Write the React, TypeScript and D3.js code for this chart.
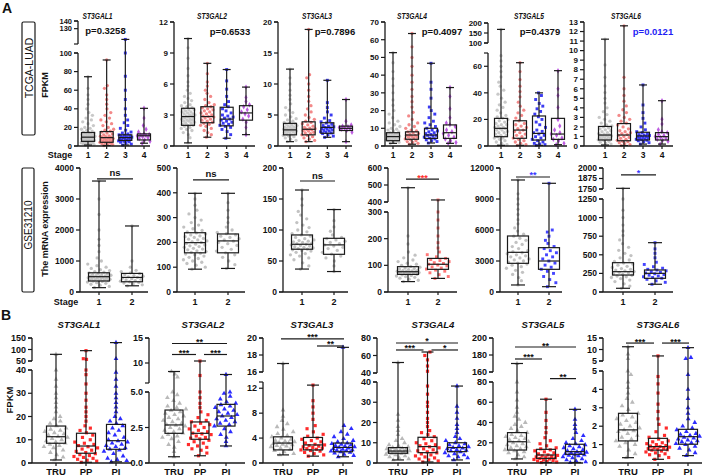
import React from "react";
import * as d3 from "d3";

const FONT = "'Liberation Sans', Arial, Helvetica, sans-serif";

// ---------- categories & labels ----------
const stageCats = ["1", "2", "3", "4"];
const gseCats = ["1", "2"];
const subtypeCats = ["TRU", "PP", "PI"];
const geneNames = ["ST3GAL1", "ST3GAL2", "ST3GAL3", "ST3GAL4", "ST3GAL5", "ST3GAL6"];
const tcgaPValues = ["p=0.3258", "p=0.6533", "p=0.7896", "p=0.4097", "p=0.4379", "p=0.0121"];
const gseSigLabels = ["ns", "ns", "ns", "***", "**", "*"];
const gseSigValues = [3650, 452, 179, 535, 11130, 1917];

// ---------- box stats [min, q1, median, q3, max] ----------
const tcgaBox1 = [[1, 5, 9.5, 14.5, 74.5], [0.5, 4, 9, 15.5, 92.5], [1, 6, 9, 12, 116], [3, 6.5, 11, 13, 40.5]];
const tcgaBox2 = [[0.3, 2.0, 2.85, 3.65, 10.4], [0.85, 2.25, 2.85, 3.8, 8.0], [0.75, 1.95, 2.6, 3.75, 7.4], [1.1, 2.5, 3.2, 3.9, 5.7]];
const tcgaBox3 = [[0.7, 1.8, 2.6, 3.65, 12.4], [0.7, 1.8, 2.7, 3.9, 18.8], [1.4, 2.05, 3.0, 3.75, 10.6], [0.7, 2.5, 2.85, 3.2, 7.5]];
const tcgaBox4 = [[1.5, 3, 5.3, 7.5, 52.7], [1, 3.8, 6.2, 8, 63.5], [1.7, 4.3, 6.2, 10, 46.7], [1.5, 4.3, 7.5, 11.9, 33]];
const tcgaBox5 = [[0.5, 7, 13.3, 20.8, 168], [0.5, 5.8, 12, 19, 62.7], [0.5, 4.5, 9.5, 22.6, 40], [1, 5, 9, 20.8, 56.7]];
const tcgaBox6 = [[0.1, 0.63, 1.15, 2.05, 11.2], [0.05, 0.55, 1.15, 2.35, 12.6], [0.2, 0.63, 1.05, 1.44, 6.4], [0.2, 0.63, 0.98, 1.4, 4.75]];

const gseBox1 = [[140, 355, 494, 620, 3580], [200, 330, 470, 600, 2130]];
const gseBox2 = [[92, 158, 199, 239, 398], [95, 158, 206, 234, 398]];
const gseBox3 = [[37, 69, 77, 92, 164.5], [33, 60.8, 76, 86.6, 133]];
const gseBox4 = [[39, 66, 76, 95, 484], [51, 85, 104, 126, 412]];
const gseBox5 = [[680, 2775, 3840, 5420, 10840], [515, 2195, 3000, 4290, 10520]];
const gseBox6 = [[50, 228, 273, 394, 1758], [104, 184, 251, 296, 663]];

const bBox1 = [[1.3, 8.5, 11.3, 15.9, 79], [0.3, 4.2, 7.3, 12.8, 95], [0.5, 5.9, 9.6, 16.6, 130]];
const bBox2 = [[0.44, 2.09, 2.68, 3.73, 8.3], [0.51, 1.67, 2.09, 2.89, 10.4], [1.2, 2.6, 3.31, 4.13, 7.7]];
const bBox3 = [[1.3, 2.1, 3.2, 4.2, 17], [1.1, 2.1, 2.9, 4.1, 12.5], [1.0, 1.8, 2.5, 3.2, 18.9]];
const bBox4 = [[1.5, 4.8, 5.9, 7.6, 52], [0.5, 5.1, 8.1, 12.7, 64], [1.5, 5.6, 7.6, 10, 38]];
const bBox5 = [[4, 12.8, 21, 30, 170], [0.5, 4.6, 7.9, 13.5, 63], [0.5, 8.6, 11.2, 18.5, 53]];
const bBox6 = [[0.29, 1.2, 1.8, 2.7, 11.2], [0.2, 0.7, 0.89, 1.34, 7.2], [0.4, 1.02, 1.43, 1.83, 10.8]];

// ---------- individual sample values ----------
const tcgaPts1 = [
  [1, 1.5, 2, 2.5, 3, 3, 3.5, 4, 4, 4.5, 5, 5, 5.5, 6, 6, 6.5, 7, 7, 7.5, 8, 8, 8.5, 9, 9, 9.5, 10, 10, 10.5, 11, 11, 11.5, 12, 12.5, 13, 13.5, 14, 14.5, 15, 16, 17, 18, 19, 20, 22, 24, 26, 28, 30, 33, 36, 40, 45, 50, 55, 62, 74.5],
  [0.5, 1.5, 2, 2.5, 3, 3.5, 4, 4.5, 5, 5.5, 6, 6.5, 7, 7.5, 8, 8.5, 9, 9.5, 10, 10.5, 11, 12, 13, 14, 15, 16, 17, 18, 20, 22, 24, 26, 28, 30, 33, 36, 40, 45, 50, 55, 62, 65, 92.5],
  [1, 2, 3, 4, 4.5, 5, 5.5, 6, 6.5, 7, 7.5, 8, 8.5, 9, 9.5, 10, 10.5, 11, 11.5, 12, 13, 14, 15, 17, 19, 22, 25, 28, 33, 40, 50, 60, 75, 100, 116],
  [3, 5, 6.5, 8, 9, 10, 11, 11.5, 12, 12.5, 13, 15, 18, 22, 30, 40.5],
];
const tcgaPts2 = [
  [0.3, 0.8, 1.1, 1.3, 1.5, 1.6, 1.7, 1.8, 1.9, 2.0, 2.0, 2.1, 2.2, 2.2, 2.3, 2.4, 2.4, 2.5, 2.5, 2.6, 2.6, 2.7, 2.7, 2.8, 2.8, 2.9, 2.9, 3.0, 3.0, 3.1, 3.1, 3.2, 3.3, 3.3, 3.4, 3.5, 3.5, 3.6, 3.7, 3.8, 3.9, 4.0, 4.2, 4.4, 4.6, 4.8, 5.1, 5.4, 5.8, 6.2, 6.8, 7.5, 8.5, 9.5, 10.4],
  [0.85, 1.1, 1.3, 1.5, 1.7, 1.9, 2.0, 2.1, 2.2, 2.3, 2.4, 2.5, 2.6, 2.7, 2.8, 2.85, 2.9, 3.0, 3.1, 3.2, 3.3, 3.4, 3.5, 3.6, 3.7, 3.8, 3.9, 4.0, 4.2, 4.5, 4.8, 5.1, 5.4, 5.8, 6.2, 7.0, 8.0],
  [0.75, 1.1, 1.4, 1.6, 1.8, 1.9, 2.0, 2.1, 2.2, 2.3, 2.4, 2.5, 2.6, 2.7, 2.8, 2.9, 3.0, 3.2, 3.4, 3.6, 3.8, 4.0, 4.3, 4.8, 5.5, 6.3, 7.4],
  [1.1, 1.8, 2.3, 2.6, 2.9, 3.1, 3.3, 3.5, 3.8, 4.0, 4.3, 4.7, 5.7],
];
const tcgaPts3 = [
  [0.7, 0.9, 1.1, 1.3, 1.5, 1.6, 1.7, 1.8, 1.9, 2.0, 2.1, 2.2, 2.3, 2.3, 2.4, 2.5, 2.5, 2.6, 2.6, 2.7, 2.7, 2.8, 2.9, 3.0, 3.0, 3.1, 3.2, 3.3, 3.4, 3.5, 3.6, 3.7, 3.8, 4.0, 4.2, 4.4, 4.7, 5.0, 5.4, 5.8, 6.2, 6.8, 7.5, 8.2, 9.0, 10.0, 11.0, 12.4],
  [0.7, 0.9, 1.1, 1.3, 1.5, 1.7, 1.8, 2.0, 2.1, 2.2, 2.4, 2.5, 2.6, 2.7, 2.8, 2.9, 3.0, 3.2, 3.4, 3.6, 3.8, 4.0, 4.3, 4.6, 5.0, 5.5, 6.0, 6.5, 7.2, 8.0, 9.0, 10.0, 11.0, 11.5, 18.8],
  [1.4, 1.6, 1.8, 2.0, 2.1, 2.2, 2.3, 2.4, 2.5, 2.6, 2.7, 2.8, 2.9, 3.0, 3.1, 3.2, 3.3, 3.5, 3.7, 3.9, 4.1, 4.5, 5.0, 5.5, 6.2, 7.0, 10.6],
  [0.7, 2.2, 2.5, 2.7, 2.8, 2.9, 3.0, 3.1, 3.2, 3.4, 4.0, 7.5],
];
const tcgaPts4 = [
  [1.5, 2, 2.5, 3, 3, 3.5, 3.5, 4, 4, 4.5, 4.5, 5, 5, 5.5, 5.5, 6, 6, 6.5, 6.5, 7, 7, 7.5, 8, 8.5, 9, 9.5, 10, 11, 12, 13, 14, 16, 18, 20, 23, 26, 30, 34, 38, 42, 47, 52.7],
  [1, 1.5, 2, 2.5, 3, 3.5, 4, 4.5, 5, 5, 5.5, 6, 6, 6.5, 7, 7.5, 8, 8.5, 9, 10, 11, 12, 13, 15, 17, 19, 22, 25, 28, 32, 36, 40, 45, 50, 56, 63.5],
  [1.7, 2.5, 3, 3.5, 4, 4.5, 5, 5.5, 6, 6, 6.5, 7, 7.5, 8, 8.5, 9, 10, 11, 12, 13, 14, 16, 18, 20, 22, 27, 32, 36, 46.7],
  [1.5, 2, 3, 4, 5, 6, 7, 8, 9, 11, 12, 13, 16, 21, 28, 33],
];
const tcgaPts5 = [
  [0.5, 1, 2, 3, 4, 5, 6, 6, 7, 8, 8, 9, 10, 10, 11, 12, 12, 13, 13, 14, 14, 15, 16, 16, 17, 18, 19, 20, 21, 22, 23, 25, 27, 29, 31, 33, 36, 39, 42, 45, 48, 52, 56, 60, 64, 68, 168],
  [0.5, 1, 2, 3, 4, 5, 6, 7, 8, 9, 10, 11, 12, 13, 14, 15, 16, 17, 19, 21, 23, 25, 27, 30, 33, 37, 41, 45, 50, 56, 62.7],
  [0.5, 1, 1.5, 2, 3, 4, 5, 6, 7, 8, 9, 10, 11, 12, 14, 16, 18, 20, 22, 24, 26, 28, 30, 32, 35, 38, 40],
  [1, 2, 4, 5, 6, 8, 9, 10, 12, 15, 20, 29, 38, 43, 56.7],
];
const tcgaPts6 = [
  [0.1, 0.2, 0.3, 0.4, 0.5, 0.6, 0.65, 0.7, 0.75, 0.8, 0.85, 0.9, 0.95, 1.0, 1.05, 1.1, 1.15, 1.2, 1.25, 1.3, 1.4, 1.5, 1.6, 1.7, 1.8, 1.9, 2.0, 2.1, 2.2, 2.4, 2.6, 2.8, 3.0, 3.3, 3.6, 4.0, 4.5, 5.0, 5.6, 6.3, 7.2, 8.5, 11.2],
  [0.05, 0.15, 0.25, 0.35, 0.45, 0.5, 0.6, 0.7, 0.8, 0.9, 1.0, 1.1, 1.2, 1.3, 1.4, 1.5, 1.6, 1.8, 2.0, 2.2, 2.4, 2.6, 2.8, 3.0, 3.2, 3.5, 3.8, 4.2, 4.7, 5.3, 6.0, 7.2, 12.6],
  [0.2, 0.35, 0.45, 0.55, 0.6, 0.65, 0.7, 0.75, 0.8, 0.85, 0.9, 0.95, 1.0, 1.05, 1.1, 1.15, 1.2, 1.3, 1.4, 1.5, 1.7, 2.0, 2.4, 2.9, 3.5, 4.3, 6.4],
  [0.2, 0.5, 0.6, 0.7, 0.8, 0.9, 1.0, 1.1, 1.2, 1.4, 1.5, 1.7, 2.3, 2.8, 4.75],
];

const gsePts1 = [
  [140, 180, 220, 250, 280, 300, 320, 340, 350, 360, 370, 380, 390, 400, 410, 420, 430, 440, 450, 460, 470, 480, 490, 500, 510, 520, 530, 540, 550, 560, 580, 600, 620, 640, 660, 690, 720, 760, 800, 850, 900, 1000, 1100, 1300, 1500, 1700, 2000, 2500, 3000, 3580],
  [200, 230, 260, 290, 310, 330, 350, 370, 390, 410, 430, 450, 470, 490, 510, 530, 560, 590, 620, 660, 700, 800, 1000, 2130],
];
const gsePts2 = [
  [92, 100, 108, 115, 120, 125, 130, 135, 140, 145, 150, 153, 156, 160, 163, 166, 170, 173, 176, 180, 183, 186, 190, 193, 196, 200, 203, 206, 210, 213, 216, 220, 223, 226, 230, 234, 238, 242, 248, 255, 262, 270, 280, 290, 300, 315, 330, 350, 375, 398],
  [95, 110, 125, 140, 150, 158, 165, 172, 180, 188, 195, 200, 205, 210, 215, 220, 225, 230, 235, 240, 250, 262, 280, 300, 330, 360, 398],
];
const gsePts3 = [
  [37, 42, 47, 52, 55, 58, 60, 62, 64, 66, 67, 68, 69, 70, 71, 72, 73, 74, 75, 76, 77, 78, 79, 80, 81, 82, 83, 84, 86, 88, 90, 92, 94, 97, 100, 104, 108, 112, 118, 124, 130, 140, 150, 164.5],
  [33, 42, 50, 55, 58, 61, 64, 67, 70, 72, 74, 76, 78, 80, 82, 84, 86, 88, 92, 98, 105, 115, 133],
];
const gsePts4 = [
  [39, 44, 48, 52, 55, 58, 60, 62, 64, 66, 68, 70, 71, 72, 73, 74, 75, 76, 77, 78, 79, 80, 82, 84, 86, 88, 90, 93, 96, 100, 104, 108, 114, 120, 128, 138, 150, 180, 210, 484],
  [51, 58, 65, 72, 78, 82, 86, 90, 94, 98, 101, 104, 107, 110, 114, 118, 122, 126, 132, 140, 150, 165, 185, 210, 240, 270, 300, 412],
];
const gsePts5 = [
  [680, 1100, 1400, 1700, 1900, 2100, 2300, 2450, 2600, 2700, 2800, 2900, 3000, 3100, 3200, 3300, 3400, 3500, 3600, 3700, 3800, 3900, 4000, 4200, 4400, 4600, 4800, 5000, 5200, 5400, 5600, 5900, 6200, 6600, 7000, 7500, 8000, 8500, 9000, 9500, 10840],
  [515, 900, 1200, 1500, 1800, 2000, 2200, 2400, 2600, 2800, 3000, 3200, 3400, 3600, 3800, 4000, 4200, 4400, 4700, 5000, 5400, 5800, 6000, 10520],
];
const gsePts6 = [
  [50, 80, 110, 140, 160, 180, 195, 205, 215, 225, 235, 245, 255, 265, 275, 285, 295, 305, 315, 330, 345, 360, 375, 390, 410, 430, 460, 490, 520, 560, 600, 650, 700, 760, 820, 900, 1000, 1100, 1250, 1758],
  [104, 130, 150, 170, 185, 195, 205, 215, 225, 235, 245, 255, 265, 275, 285, 295, 305, 320, 340, 370, 400, 460, 520, 580, 663],
];

const bPts1 = [
  [1.3, 2.5, 3.5, 4.5, 5.5, 6.5, 7, 7.5, 8, 8.5, 9, 9.5, 10, 10.5, 11, 11.5, 12, 12.5, 13, 13.5, 14, 14.5, 15, 16, 17, 18, 19, 20, 22, 24, 26, 28, 30, 33, 36, 40, 79],
  [0.3, 0.8, 1.2, 1.6, 2, 2.4, 2.8, 3.2, 3.6, 4, 4.5, 5, 5.5, 6, 6.5, 7, 7.5, 8, 8.5, 9, 10, 11, 12, 13, 14, 15, 16, 18, 20, 22, 24, 27, 30, 34, 38, 40, 57, 60, 95],
  [0.5, 1, 1.5, 2, 3, 4, 5, 5.5, 6, 6.5, 7, 7.5, 8, 8.5, 9, 9.5, 10, 11, 12, 13, 14, 15, 16, 17, 18, 19, 20, 22, 24, 26, 28, 30, 33, 36, 39, 60, 130],
];
const bPts2 = [
  [0.44, 0.8, 1.1, 1.3, 1.5, 1.7, 1.8, 1.9, 2.0, 2.1, 2.2, 2.3, 2.4, 2.5, 2.6, 2.65, 2.7, 2.8, 2.9, 3.0, 3.1, 3.2, 3.3, 3.4, 3.5, 3.6, 3.7, 3.8, 3.9, 4.0, 4.2, 4.4, 4.6, 4.8, 5.0, 7.2, 7.8, 8.3],
  [0.51, 0.7, 0.9, 1.0, 1.1, 1.2, 1.3, 1.4, 1.5, 1.6, 1.7, 1.75, 1.8, 1.9, 2.0, 2.05, 2.1, 2.2, 2.3, 2.4, 2.5, 2.6, 2.7, 2.8, 2.9, 3.0, 3.2, 3.4, 3.6, 3.9, 4.2, 4.6, 5.0, 7.5, 10.4],
  [1.2, 1.5, 1.8, 2.0, 2.2, 2.4, 2.6, 2.7, 2.8, 2.9, 3.0, 3.1, 3.2, 3.3, 3.4, 3.5, 3.6, 3.7, 3.8, 3.9, 4.0, 4.1, 4.2, 4.3, 4.5, 4.7, 4.9, 5.0, 7.7],
];
const bPts3 = [
  [1.3, 1.5, 1.8, 2.0, 2.2, 2.4, 2.6, 2.7, 2.8, 2.9, 3.0, 3.1, 3.2, 3.3, 3.4, 3.5, 3.6, 3.8, 4.0, 4.2, 4.4, 4.7, 5.0, 5.4, 5.8, 6.3, 6.8, 7.5, 8.5, 17],
  [1.1, 1.3, 1.5, 1.7, 1.9, 2.0, 2.1, 2.2, 2.3, 2.4, 2.5, 2.6, 2.7, 2.8, 2.9, 3.0, 3.2, 3.4, 3.6, 3.8, 4.0, 4.3, 4.6, 5.0, 5.5, 6.0, 7.0, 8.0, 9.0, 10.0, 12.5],
  [1.0, 1.2, 1.4, 1.6, 1.7, 1.8, 1.9, 2.0, 2.05, 2.1, 2.2, 2.3, 2.4, 2.5, 2.6, 2.7, 2.8, 2.9, 3.0, 3.1, 3.2, 3.4, 3.6, 3.9, 4.2, 4.6, 5.0, 5.5, 6.0, 18.9],
];
const bPts4 = [
  [1.5, 2, 2.5, 3, 3.5, 4, 4.3, 4.6, 4.8, 5, 5.2, 5.4, 5.6, 5.8, 6, 6.2, 6.4, 6.6, 6.8, 7, 7.3, 7.6, 8, 8.5, 9, 10, 11, 12, 14, 16, 18, 21, 24, 52],
  [0.5, 1, 1.5, 2, 2.5, 3, 3.5, 4, 4.5, 5, 5.5, 6, 6.5, 7, 7.5, 8, 8.5, 9, 9.5, 10, 11, 12, 13, 14, 15, 16, 18, 20, 22, 25, 28, 30, 34, 38, 42, 48, 55, 60, 64],
  [1.5, 2.5, 3, 3.5, 4, 4.5, 5, 5.5, 6, 6.3, 6.6, 7, 7.3, 7.6, 8, 8.5, 9, 9.5, 10, 11, 12, 13, 15, 17, 19, 22, 25, 28, 38],
];
const bPts5 = [
  [4, 6, 8, 10, 11, 12, 13, 14, 15, 16, 17, 18, 19, 20, 21, 22, 23, 24, 25, 26, 27, 28, 30, 32, 34, 36, 38, 40, 43, 46, 50, 55, 62, 70, 80, 170],
  [0.5, 1, 1.5, 2, 2.5, 3, 3.5, 4, 4.5, 5, 5.5, 6, 6.5, 7, 7.5, 8, 9, 10, 11, 12, 13, 14, 15, 17, 19, 22, 25, 30, 35, 42, 50, 63],
  [0.5, 1, 2, 3, 4, 5, 6, 7, 7.5, 8, 8.5, 9, 9.5, 10, 10.5, 11, 12, 13, 14, 15, 16, 17, 18, 19, 20, 22, 24, 27, 30, 34, 38, 43, 53],
];
const bPts6 = [
  [0.29, 0.5, 0.7, 0.9, 1.0, 1.1, 1.2, 1.3, 1.4, 1.5, 1.6, 1.7, 1.75, 1.8, 1.9, 2.0, 2.1, 2.2, 2.3, 2.4, 2.5, 2.6, 2.7, 2.9, 3.1, 3.3, 3.5, 3.8, 4.1, 4.4, 4.8, 5.0, 6.0, 8.0, 11.2],
  [0.2, 0.3, 0.4, 0.45, 0.5, 0.55, 0.6, 0.65, 0.7, 0.72, 0.75, 0.78, 0.8, 0.83, 0.86, 0.89, 0.92, 0.95, 1.0, 1.05, 1.1, 1.15, 1.2, 1.3, 1.4, 1.5, 1.7, 1.9, 2.1, 2.4, 2.8, 3.2, 3.8, 4.3, 4.7, 7.2],
  [0.4, 0.55, 0.7, 0.8, 0.9, 1.0, 1.05, 1.1, 1.15, 1.2, 1.25, 1.3, 1.35, 1.4, 1.45, 1.5, 1.55, 1.6, 1.7, 1.8, 1.9, 2.0, 2.2, 2.4, 2.7, 3.0, 3.5, 4.0, 4.8, 6.0, 6.5, 10.8],
];

// ---------- axis tick labels (per axis segment, bottom segment first) ----------
const tcgaTicks1 = [["0", "20", "40", "60", "80", "100"], ["130", "140"]];
const tcgaTicks2 = [["0", "3", "6", "9", "12"]];
const tcgaTicks3 = [["0", "5", "10", "15", "20"]];
const tcgaTicks4 = [["0", "10", "20", "30", "40", "50", "60", "70"]];
const tcgaTicks5 = [["0", "20", "40", "60"], ["100", "150", "200"]];
const tcgaTicks6 = [["0", "1", "2", "3", "4", "5", "6", "7", "8", "9", "10", "11", "12", "13"]];
const gseTicks1 = [["0", "1000", "2000", "3000", "4000"]];
const gseTicks2 = [["0", "100", "200", "300", "400", "500"]];
const gseTicks3 = [["0", "50", "100", "150", "200"]];
const gseTicks4 = [["0", "100", "200", "300"], ["400", "500", "600"]];
const gseTicks5 = [["0", "3000", "6000", "9000", "12000"]];
const gseTicks6 = [["0", "250", "500", "750", "1000", "1250"], ["1750", "1875", "2000"]];
const bTicks1 = [["0", "10", "20", "30", "40"], ["50", "100", "150"]];
const bTicks2 = [["0.0", "2.5", "5.0"], ["10", "15"]];
const bTicks3 = [["0", "4", "8", "12"], ["16", "18", "20"]];
const bTicks4 = [["0", "10", "20", "30", "40"], ["40", "60", "80"]];
const bTicks5 = [["0", "20", "40", "60", "80"], ["160", "180", "200"]];
const bTicks6 = [["0", "1", "2", "3", "4", "5"], ["5", "10", "15"]];

// significance brackets: [group a, group b, label, level value]
const bSig2 = [[0, 2, "**", 13.9], [0, 1, "***", 11.7], [1, 2, "***", 11.7]];
const bSig3 = [[0, 2, "***", 19.9], [1, 2, "**", 19.06]];
const bSig4 = [[0, 2, "*", 74.3], [0, 1, "***", 66.3], [1, 2, "*", 66.3]];
const bSig5 = [[0, 2, "**", 189.4], [0, 1, "***", 175.3], [1, 2, "**", 107]];
const bSig6 = [[0, 1, "***", 12.8], [1, 2, "***", 12.8]];

// ---------- helpers ----------
type Seg = { d: [number, number]; r: [number, number] };

function makeY(segs: Seg[]) {
  const sc = segs.map((s) => d3.scaleLinear().domain(s.d).range(s.r));
  return (v: number) => {
    for (let i = 0; i < segs.length; i++) {
      const [a, b] = segs[i].d;
      if (v >= a && v <= b) return sc[i](v);
      if (i < segs.length - 1 && v > b && v < segs[i + 1].d[0]) {
        const t = (v - b) / (segs[i + 1].d[0] - b);
        return segs[i].r[1] + t * (segs[i + 1].r[0] - segs[i].r[1]);
      }
    }
    return sc[sc.length - 1](v);
  };
}

function swarm(ys: number[], halfW: number) {
  return ys.map((yy, i) => {
    let n = 0;
    for (const o of ys) if (Math.abs(o - yy) < 4) n++;
    const f = Math.min(1, (n - 1) / 3);
    const u = ((i * 0.6180339887 + 0.31) % 1) - 0.5;
    return u * 2 * halfW * f;
  });
}

const symbolTypes: any = {
  circle: d3.symbolCircle,
  square: d3.symbolSquare,
  triangle: d3.symbolTriangle,
  diamond: d3.symbolDiamond,
};

function Panel({ c }: { c: any }) {
  const y = makeY(c.segs);
  const x = d3.scalePoint().domain(c.cats).range(c.catRange);
  const y0 = c.segs[0].r[0];
  const n = c.cats.length;
  const stroke = "#1a1a1a";
  const els: any[] = [];

  // points
  c.pts.forEach((vals: number[], gi: number) => {
    const cx = x(c.cats[gi]) as number;
    const ys = vals.map(y);
    const offs = swarm(ys, c.boxW / 2 + c.spread);
    const sym = d3.symbol().type(symbolTypes[c.shapes[gi]]).size(c.symSize)();
    ys.forEach((py, i) => {
      els.push(
        <path key={`p${gi}-${i}`} d={sym as string} transform={`translate(${cx + offs[i]},${py})`} fill={c.colors[gi]} opacity={0.92} />
      );
    });
  });

  // boxes
  c.box.forEach((b: number[], gi: number) => {
    const cx = x(c.cats[gi]) as number;
    const [mn, q1, md, q3, mx] = b.map(y);
    const hw = c.boxW / 2;
    const cw = c.capW / 2;
    els.push(
      <g key={`b${gi}`} stroke={stroke} strokeWidth={1.2} fill="none">
        <line x1={cx} x2={cx} y1={q3} y2={mx} />
        <line x1={cx} x2={cx} y1={q1} y2={mn} />
        <line x1={cx - cw} x2={cx + cw} y1={mx} y2={mx} />
        <line x1={cx - cw} x2={cx + cw} y1={mn} y2={mn} />
        <rect x={cx - hw} y={q3} width={c.boxW} height={q1 - q3} />
        <line x1={cx - hw} x2={cx + hw} y1={md} y2={md} />
      </g>
    );
  });

  // y axis segments + ticks
  c.segs.forEach((s: Seg, si: number) => {
    const segScale = d3.scaleLinear().domain(s.d).range(s.r);
    els.push(<line key={`ya${si}`} x1={c.axisX} x2={c.axisX} y1={s.r[0]} y2={s.r[1]} stroke={stroke} strokeWidth={1.3} />);
    const labels: string[] = c.ticks[si] || [];
    labels.forEach((l, ti) => {
      const pyy = segScale(parseFloat(l));
      els.push(<line key={`yt${si}-${ti}`} x1={c.axisX - 4} x2={c.axisX} y1={pyy} y2={pyy} stroke={stroke} strokeWidth={1.2} />);
      els.push(
        <text key={`yl${si}-${ti}`} x={c.axisX - 6} y={pyy} dy="0.35em" textAnchor="end" fontSize={c.tickSize} fontWeight="bold" fontFamily={FONT} fill="#111">
          {l}
        </text>
      );
    });
    [s.r[0], s.r[1]].forEach((ey, k) => {
      els.push(<line key={`ye${si}-${k}`} x1={c.axisX - 4} x2={c.axisX} y1={ey} y2={ey} stroke={stroke} strokeWidth={1.2} />);
    });
  });

  // x axis
  els.push(<line key="xa" x1={c.axisX} x2={c.xEnd} y1={y0} y2={y0} stroke={stroke} strokeWidth={1.3} />);
  c.cats.forEach((cat: string, i: number) => {
    const cx = x(cat) as number;
    els.push(<line key={`xt${i}`} x1={cx} x2={cx} y1={y0} y2={y0 + 3} stroke={stroke} strokeWidth={1.2} />);
    els.push(
      <text key={`xl${i}`} x={cx} y={c.catY} textAnchor="middle" fontSize={c.catSize} fontWeight="bold" fontFamily={FONT} fill="#111">
        {cat}
      </text>
    );
  });

  if (c.title) {
    els.push(
      <text key="title" x={c.titleX} y={c.titleY} textAnchor="middle" fontSize={c.titleSize} fontWeight="bold" fontStyle="italic" fontFamily={FONT} fill="#111"
        {...(c.titleLen ? { textLength: c.titleLen, lengthAdjust: "spacingAndGlyphs" } : {})}>
        {c.title}
      </text>
    );
  }
  if (c.p) {
    els.push(
      <text key="p" x={c.pX} y={c.pY} textAnchor="middle" fontSize={9.5} fontWeight="bold" fontFamily={FONT} fill={c.pColor}>
        {c.p}
      </text>
    );
  }
  (c.sig || []).forEach((s: any[], k: number) => {
    const [a, b, lab, lv] = s;
    const xa = x(c.cats[a]) as number;
    const xb = x(c.cats[b]) as number;
    const x1 = a === 0 ? xa - 2 : xa + 4;
    const x2 = b === n - 1 ? xb + 1 : xb - 4;
    const ly = y(lv) as number;
    const isNs = lab === "ns";
    els.push(<line key={`sl${k}`} x1={x1} x2={x2} y1={ly} y2={ly} stroke={stroke} strokeWidth={1.2} />);
    els.push(
      <text key={`st${k}`} x={(x1 + x2) / 2} y={isNs ? ly - 2.5 : ly + 1.5} textAnchor="middle" fontSize={isNs ? 9.5 : 9} fontWeight="bold" fontFamily={FONT} fill={c.sigColor || "#111"}>
        {lab}
      </text>
    );
  });

  return <g>{els}</g>;
}

// ---------- panel definitions ----------
const tcgaColors = ["#c4c4c4", "#f27f7f", "#2a2af0", "#b84fe0"];
const tcgaShapes = ["circle", "circle", "square", "diamond"];
const tcgaBoxes = [tcgaBox1, tcgaBox2, tcgaBox3, tcgaBox4, tcgaBox5, tcgaBox6];
const tcgaPts = [tcgaPts1, tcgaPts2, tcgaPts3, tcgaPts4, tcgaPts5, tcgaPts6];
const tcgaTicks = [tcgaTicks1, tcgaTicks2, tcgaTicks3, tcgaTicks4, tcgaTicks5, tcgaTicks6];
const tcgaLayout = [
  { axisX: 78, catRange: [88, 144], xEnd: 150, segs: [{ d: [0, 100], r: [146, 53] }, { d: [110, 140], r: [44, 21] }], titleX: 97.5, pX: 105.5, pY: 34, tickSize: 7.5 },
  { axisX: 174, catRange: [188, 246], xEnd: 255, segs: [{ d: [0, 12], r: [146, 22] }], titleX: 212, pX: 230, pY: 35 },
  { axisX: 278, catRange: [290, 346], xEnd: 352, segs: [{ d: [0, 20], r: [146, 22] }], titleX: 317, pX: 335, pY: 35 },
  { axisX: 385, catRange: [393, 450], xEnd: 462, segs: [{ d: [0, 70], r: [146, 22] }], titleX: 412, pX: 442, pY: 35 },
  { axisX: 488, catRange: [501, 558], xEnd: 567, segs: [{ d: [0, 70], r: [146, 53] }, { d: [100, 200], r: [43, 23] }], titleX: 529, pX: 540, pY: 35 },
  { axisX: 584, catRange: [605, 662], xEnd: 673, segs: [{ d: [0, 13], r: [146, 22] }], titleX: 626, pX: 653, pY: 35 },
];
const tcgaPanels = tcgaLayout.map((L, i) => ({
  cats: stageCats,
  box: tcgaBoxes[i],
  pts: tcgaPts[i],
  ticks: tcgaTicks[i],
  colors: tcgaColors,
  shapes: tcgaShapes,
  symSize: 8.5,
  spread: 0.5,
  boxW: 13,
  capW: 8,
  tickSize: 8,
  catSize: 8.5,
  catY: 158,
  title: geneNames[i],
  titleY: 19,
  titleSize: 8.5,
  titleLen: 30,
  p: tcgaPValues[i],
  pColor: i === 5 ? "#1f1ff5" : "#111",
  ...L,
}));

const gseBoxes = [gseBox1, gseBox2, gseBox3, gseBox4, gseBox5, gseBox6];
const gsePts = [gsePts1, gsePts2, gsePts3, gsePts4, gsePts5, gsePts6];
const gseTicks = [gseTicks1, gseTicks2, gseTicks3, gseTicks4, gseTicks5, gseTicks6];
const gseSecond = ["#bdbdbd", "#bdbdbd", "#bdbdbd", "#ff6b6b", "#3535ff", "#3535ff"];
const gseSigColor = ["#111", "#111", "#111", "#ff2e2e", "#3a3aff", "#3a3aff"];
const gseLayout = [
  { axisX: 80, catRange: [99, 132], xEnd: 148, segs: [{ d: [0, 4000], r: [292, 168] }] },
  { axisX: 177, catRange: [195, 228], xEnd: 245, segs: [{ d: [0, 500], r: [292, 168] }] },
  { axisX: 283, catRange: [302, 334], xEnd: 348, segs: [{ d: [0, 200], r: [292, 168] }] },
  { axisX: 388, catRange: [408, 438], xEnd: 457, segs: [{ d: [0, 300], r: [292, 212] }, { d: [400, 600], r: [202, 168] }] },
  { axisX: 500, catRange: [518, 549], xEnd: 562, segs: [{ d: [0, 12000], r: [292, 168] }] },
  { axisX: 603, catRange: [623, 655], xEnd: 673, segs: [{ d: [0, 1250], r: [292, 199] }, { d: [1750, 2000], r: [189, 168] }] },
];
const gsePanels = gseLayout.map((L, i) => ({
  cats: gseCats,
  box: gseBoxes[i],
  pts: gsePts[i],
  ticks: gseTicks[i],
  colors: ["#bdbdbd", gseSecond[i]],
  shapes: ["circle", i >= 3 ? "square" : "circle"],
  symSize: 8.5,
  spread: 1.5,
  boxW: 21,
  capW: 14,
  tickSize: 8.5,
  catSize: 9,
  catY: 305,
  sig: [[0, 1, gseSigLabels[i], gseSigValues[i]]],
  sigColor: gseSigColor[i],
  ...L,
}));

const bBoxes = [bBox1, bBox2, bBox3, bBox4, bBox5, bBox6];
const bPts = [bPts1, bPts2, bPts3, bPts4, bPts5, bPts6];
const bTicks = [bTicks1, bTicks2, bTicks3, bTicks4, bTicks5, bTicks6];
const bSigs = [[], bSig2, bSig3, bSig4, bSig5, bSig6];
const bLayout = [
  { axisX: 32, catRange: [56, 116], xEnd: 132, segs: [{ d: [0, 40], r: [463, 370] }, { d: [50, 150], r: [361, 338] }], titleX: 79 },
  { axisX: 149, catRange: [174, 226], xEnd: 245, segs: [{ d: [0, 5], r: [463, 392] }, { d: [6, 15], r: [383, 338] }], titleX: 203, boxW: 18 },
  { axisX: 263, catRange: [283, 343], xEnd: 353, segs: [{ d: [0, 13], r: [463, 382] }, { d: [16, 20], r: [372, 338] }], titleX: 312 },
  { axisX: 377, catRange: [398, 457], xEnd: 470, segs: [{ d: [0, 40], r: [463, 382] }, { d: [40, 80], r: [373, 338] }], titleX: 433 },
  { axisX: 493, catRange: [517, 575], xEnd: 583, segs: [{ d: [0, 80], r: [463, 382] }, { d: [160, 200], r: [372, 338] }], titleX: 543 },
  { axisX: 603, catRange: [628, 688], xEnd: 702, segs: [{ d: [0, 5], r: [463, 371] }, { d: [5, 15], r: [361, 338] }], titleX: 658 },
];
const bPanels = bLayout.map((L, i) => ({
  cats: subtypeCats,
  box: bBoxes[i],
  pts: bPts[i],
  ticks: bTicks[i],
  colors: ["#b3b3b3", "#ff1a1a", "#1a1aff"],
  shapes: ["triangle", "square", "triangle"],
  symSize: 10,
  spread: 3,
  boxW: 19,
  capW: 12,
  tickSize: 9,
  catSize: 9.5,
  catY: 475,
  title: geneNames[i],
  titleY: 328,
  titleSize: 9.5,
  sig: bSigs[i],
  ...L,
}));

const bold = { fontFamily: FONT, fontWeight: "bold" as const, fill: "#111" };

export default function App() {
  return (
    <svg width={708} height={476} viewBox="0 0 708 476" style={{ position: "absolute", left: 0, top: 0, background: "#fff" }}>
      <rect x={0} y={0} width={708} height={476} fill="#fff" />
      <text x={2} y={13} fontSize={14} {...bold}>A</text>
      <text x={1} y={320} fontSize={14} {...bold}>B</text>

      <rect x={22} y={22} width={13} height={113} rx={1.5} fill="none" stroke="#1a1a1a" strokeWidth={1.2} />
      <text transform="translate(32.5,68) rotate(-90)" textAnchor="middle" fontSize={10.5} fontFamily={FONT} fill="#111">TCGA-LUAD</text>
      <rect x={22} y={168} width={12} height={124} rx={1.5} fill="none" stroke="#1a1a1a" strokeWidth={1.2} />
      <text transform="translate(31.5,225) rotate(-90)" textAnchor="middle" fontSize={10} fontFamily={FONT} fill="#111">GSE31210</text>

      <text transform="translate(48,85) rotate(-90)" textAnchor="middle" fontSize={9} {...bold}>FPKM</text>
      <text x={60} y={158} textAnchor="middle" fontSize={9} {...bold}>Stage</text>
      <text transform="translate(48,229) rotate(-90)" textAnchor="middle" fontSize={9} {...bold}>The mRNA expression</text>
      <text x={66} y={305} textAnchor="middle" fontSize={9} {...bold}>Stage</text>
      <text transform="translate(13,400) rotate(-90)" textAnchor="middle" fontSize={9.5} {...bold}>FPKM</text>

      {tcgaPanels.map((c, i) => <Panel key={`t${i}`} c={c} />)}
      {gsePanels.map((c, i) => <Panel key={`g${i}`} c={c} />)}
      {bPanels.map((c, i) => <Panel key={`b${i}`} c={c} />)}
    </svg>
  );
}
